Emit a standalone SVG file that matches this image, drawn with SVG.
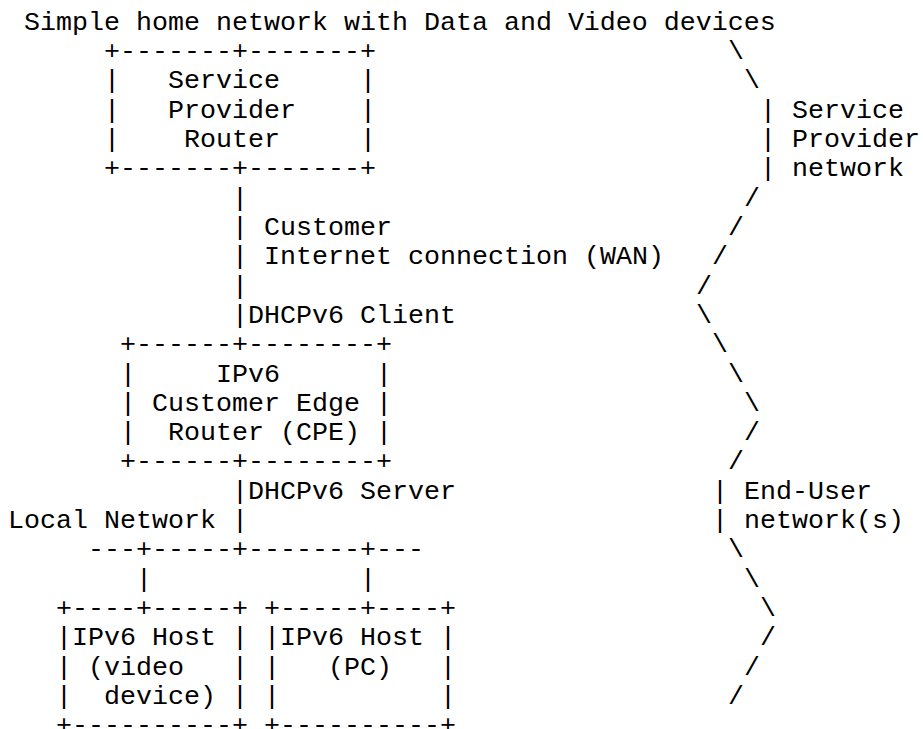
<svg xmlns="http://www.w3.org/2000/svg" width="923" height="729" viewBox="0 0 923 729">
<style>
text{font-family:"Liberation Mono","Courier New",monospace;font-size:26.67px;fill:#000;white-space:pre}
</style>
<rect width="923" height="729" fill="#fff"/>
<g id="title"><text x="24" y="29.5" xml:space="preserve">Simple home network with Data and Video devices</text></g>
<g id="sp-router" xml:space="preserve">
<text x="104" y="58.8">+-------+-------+</text>
<text x="104" y="88.2">|</text><text x="168" y="88.2">Service</text><text x="360" y="88.2">|</text>
<text x="104" y="117.5">|</text><text x="168" y="117.5">Provider</text><text x="360" y="117.5">|</text>
<text x="104" y="146.8">|</text><text x="184" y="146.8">Router</text><text x="360" y="146.8">|</text>
<text x="104" y="176.2">+-------+-------+</text>
</g>
<g id="cpe" xml:space="preserve">
<text x="120" y="352.1">+------+--------+</text>
<text x="120" y="381.5">|</text><text x="216" y="381.5">IPv6</text><text x="376" y="381.5">|</text>
<text x="120" y="410.8">| Customer Edge |</text>
<text x="120" y="440.1">|  Router (CPE) |</text>
<text x="120" y="469.4">+------+--------+</text>
</g>
<g id="host-video" xml:space="preserve">
<text x="56" y="616.1">+----+-----+</text>
<text x="56" y="645.4">|IPv6 Host |</text>
<text x="56" y="674.8">| (video   |</text>
<text x="56" y="704.1">|  device) |</text>
<text x="56" y="733.4">+----------+</text>
</g>
<g id="host-pc" xml:space="preserve">
<text x="264" y="616.1">+-----+----+</text>
<text x="264" y="645.4">|IPv6 Host |</text>
<text x="264" y="674.8">|   (PC)   |</text>
<text x="264" y="704.1">|          |</text>
<text x="264" y="733.4">+----------+</text>
</g>
<g id="connectors" xml:space="preserve">
<text x="232" y="205.5">|</text>
<text x="232" y="234.8">|</text>
<text x="232" y="264.1">|</text>
<text x="232" y="293.5">|</text>
<text x="232" y="322.8">|</text>
<text x="232" y="498.8">|</text>
<text x="232" y="528.1">|</text>
<text x="88" y="557.4">---+-----+-------+---</text>
<text x="136" y="586.8">|</text>
<text x="360" y="586.8">|</text>
</g>
<g id="labels" xml:space="preserve">
<text x="264" y="234.8">Customer</text>
<text x="264" y="264.1">Internet connection (WAN)</text>
<text x="248" y="322.8">DHCPv6 Client</text>
<text x="248" y="498.8">DHCPv6 Server</text>
<text x="8" y="528.1">Local Network</text>
</g>
<g id="sp-network" xml:space="preserve">
<text x="728" y="58.8">\</text>
<text x="744" y="88.2">\</text>
<text x="760" y="117.5">| Service</text>
<text x="760" y="146.8">| Provider</text>
<text x="760" y="176.2">| network</text>
<text x="744" y="205.5">/</text>
<text x="728" y="234.8">/</text>
<text x="712" y="264.1">/</text>
<text x="696" y="293.5">/</text>
</g>
<g id="end-user-network" xml:space="preserve">
<text x="696" y="322.8">\</text>
<text x="712" y="352.1">\</text>
<text x="728" y="381.5">\</text>
<text x="744" y="410.8">\</text>
<text x="744" y="440.1">/</text>
<text x="728" y="469.4">/</text>
<text x="712" y="498.8">| End-User</text>
<text x="712" y="528.1">| network(s)</text>
<text x="728" y="557.4">\</text>
<text x="744" y="586.8">\</text>
<text x="760" y="616.1">\</text>
<text x="760" y="645.4">/</text>
<text x="744" y="674.8">/</text>
<text x="728" y="704.1">/</text>
</g>
</svg>
